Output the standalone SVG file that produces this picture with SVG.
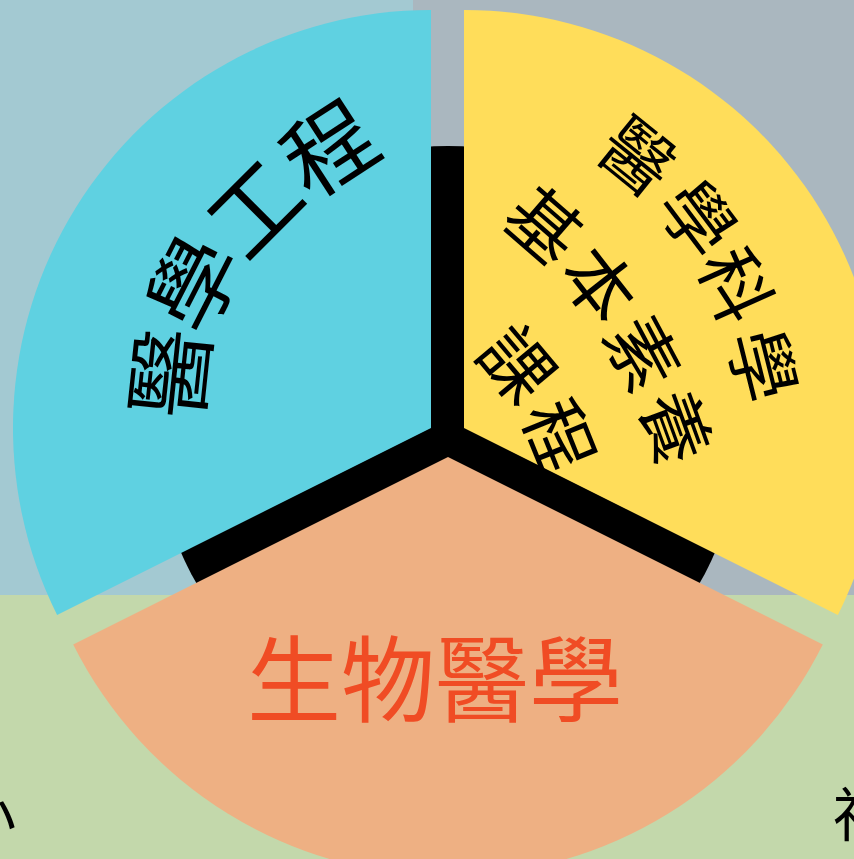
<svg xmlns="http://www.w3.org/2000/svg" width="854" height="859" viewBox="0 0 854 859">
  <style>
    .cjk { font-family: "Noto Sans CJK TC", "Noto Sans CJK SC", sans-serif; }
    .dark { fill: #000000; }
  </style>
  <g id="background">
    <rect x="0" y="0" width="413" height="595" fill="#a3c9d2"/>
    <rect x="413" y="0" width="441" height="595" fill="#aab7bf"/>
    <rect x="0" y="595" width="854" height="264" fill="#c3d8ab"/>
  </g>
  <g id="connectors">
    <circle cx="448" cy="437" r="291" fill="#000000"/>
  </g>
  <g id="node-engineering">
    <path d="M431,428 L431,10 A418,418 0 0 0 57.1,614.9 Z" fill="#5fd1e1"/>
    <text class="cjk dark" font-size="90" x="199.3 203.5 246.4 309.9" y="421.3 339.1 264.0 200.7" rotate="-84 -63 -45 -33">醫學工程</text>
  </g>
  <g id="node-science">
    <path d="M464,428 L464,10 A418,418 0 0 1 837.9,614.9 Z" fill="#ffdd5a"/>
    <text class="cjk dark" font-size="72" x="592.8 654.5 696.4 727.7" y="154.6 205.7 263.2 336.7" rotate="39 53 66 76">醫學科學</text>
    <text class="cjk dark" font-size="72" x="498.9 556.3 601.9 638.0" y="222.0 272.5 334.1 402.5" rotate="41 52 62 70">基本素養</text>
    <text class="cjk dark" font-size="72" x="472.9 521.1" y="354.0 412.9" rotate="50 68">課程</text>
  </g>
  <g id="node-biomed">
    <path d="M448,457 L822.8,644.4 A419,419 0 0 1 73.2,644.4 Z" fill="#eeb083"/>
    <text class="cjk" font-size="94" x="435" y="715" text-anchor="middle" fill="#f04c24">生物醫學</text>
  </g>
  <g id="edge-labels">
    <text class="cjk dark" font-size="58" x="-42" y="836">小</text>
    <text class="cjk dark" font-size="58" x="833" y="836">社</text>
  </g>
</svg>
